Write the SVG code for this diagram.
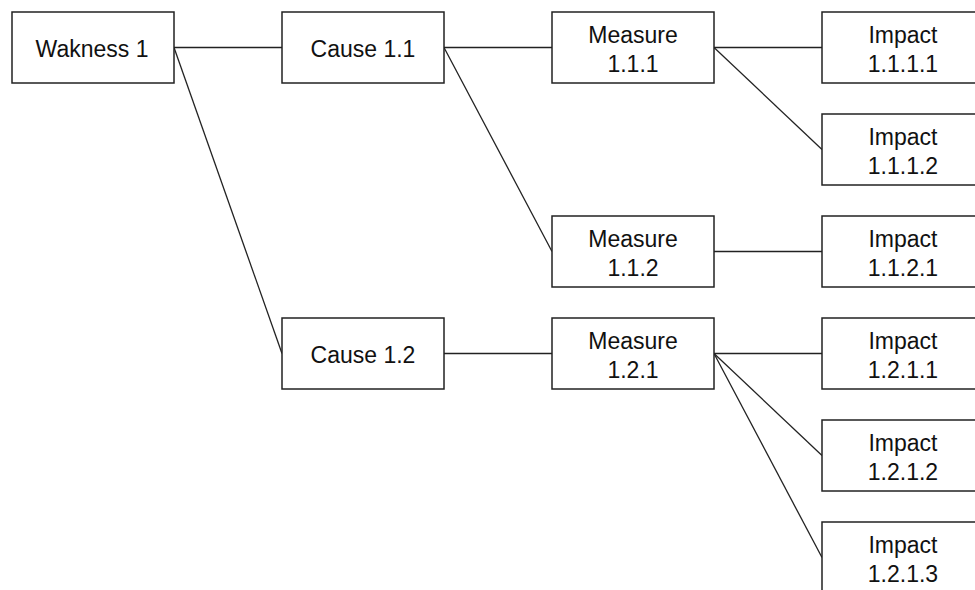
<svg xmlns="http://www.w3.org/2000/svg" width="975" height="590" viewBox="0 0 975 590">
<style>
.box{fill:#fff;stroke:#222;stroke-width:1.5}
.t{font-family:"Liberation Sans",Arial,sans-serif;font-size:23px;fill:#111;text-anchor:middle}
.c{stroke:#222;stroke-width:1.3;fill:none}
</style>
<rect width="975" height="590" fill="#fff"/>
<g id="connectors">
<line class="c" x1="174" y1="47.5" x2="282" y2="47.5"/>
<line class="c" x1="174" y1="47.5" x2="282" y2="353.5"/>
<line class="c" x1="444" y1="47.5" x2="552" y2="47.5"/>
<line class="c" x1="444" y1="47.5" x2="552" y2="251.5"/>
<line class="c" x1="444" y1="353.5" x2="552" y2="353.5"/>
<line class="c" x1="714" y1="47.5" x2="822" y2="47.5"/>
<line class="c" x1="714" y1="47.5" x2="822" y2="149.5"/>
<line class="c" x1="714" y1="251.5" x2="822" y2="251.5"/>
<line class="c" x1="714" y1="353.5" x2="822" y2="353.5"/>
<line class="c" x1="714" y1="353.5" x2="822" y2="455.5"/>
<line class="c" x1="714" y1="353.5" x2="822" y2="557.5"/>
</g>
<g id="w1"><rect class="box" x="12" y="12" width="162" height="71"/><text class="t" x="92" y="57">Wakness 1</text></g>
<g id="c11"><rect class="box" x="282" y="12" width="162" height="71"/><text class="t" x="363" y="57">Cause 1.1</text></g>
<g id="c12"><rect class="box" x="282" y="318" width="162" height="71"/><text class="t" x="363" y="363">Cause 1.2</text></g>
<g id="m111"><rect class="box" x="552" y="12" width="162" height="71"/><text class="t" x="633" y="43">Measure</text><text class="t" x="633" y="71.5">1.1.1</text></g>
<g id="m112"><rect class="box" x="552" y="216" width="162" height="71"/><text class="t" x="633" y="247">Measure</text><text class="t" x="633" y="275.5">1.1.2</text></g>
<g id="m121"><rect class="box" x="552" y="318" width="162" height="71"/><text class="t" x="633" y="349">Measure</text><text class="t" x="633" y="377.5">1.2.1</text></g>
<g id="i1111"><rect class="box" x="822" y="12" width="162" height="71"/><text class="t" x="903" y="43">Impact</text><text class="t" x="903" y="71.5">1.1.1.1</text></g>
<g id="i1112"><rect class="box" x="822" y="114" width="162" height="71"/><text class="t" x="903" y="145">Impact</text><text class="t" x="903" y="173.5">1.1.1.2</text></g>
<g id="i1121"><rect class="box" x="822" y="216" width="162" height="71"/><text class="t" x="903" y="247">Impact</text><text class="t" x="903" y="275.5">1.1.2.1</text></g>
<g id="i1211"><rect class="box" x="822" y="318" width="162" height="71"/><text class="t" x="903" y="349">Impact</text><text class="t" x="903" y="377.5">1.2.1.1</text></g>
<g id="i1212"><rect class="box" x="822" y="420" width="162" height="71"/><text class="t" x="903" y="451">Impact</text><text class="t" x="903" y="479.5">1.2.1.2</text></g>
<g id="i1213"><rect class="box" x="822" y="522" width="162" height="71"/><text class="t" x="903" y="553">Impact</text><text class="t" x="903" y="581.5">1.2.1.3</text></g>
</svg>
